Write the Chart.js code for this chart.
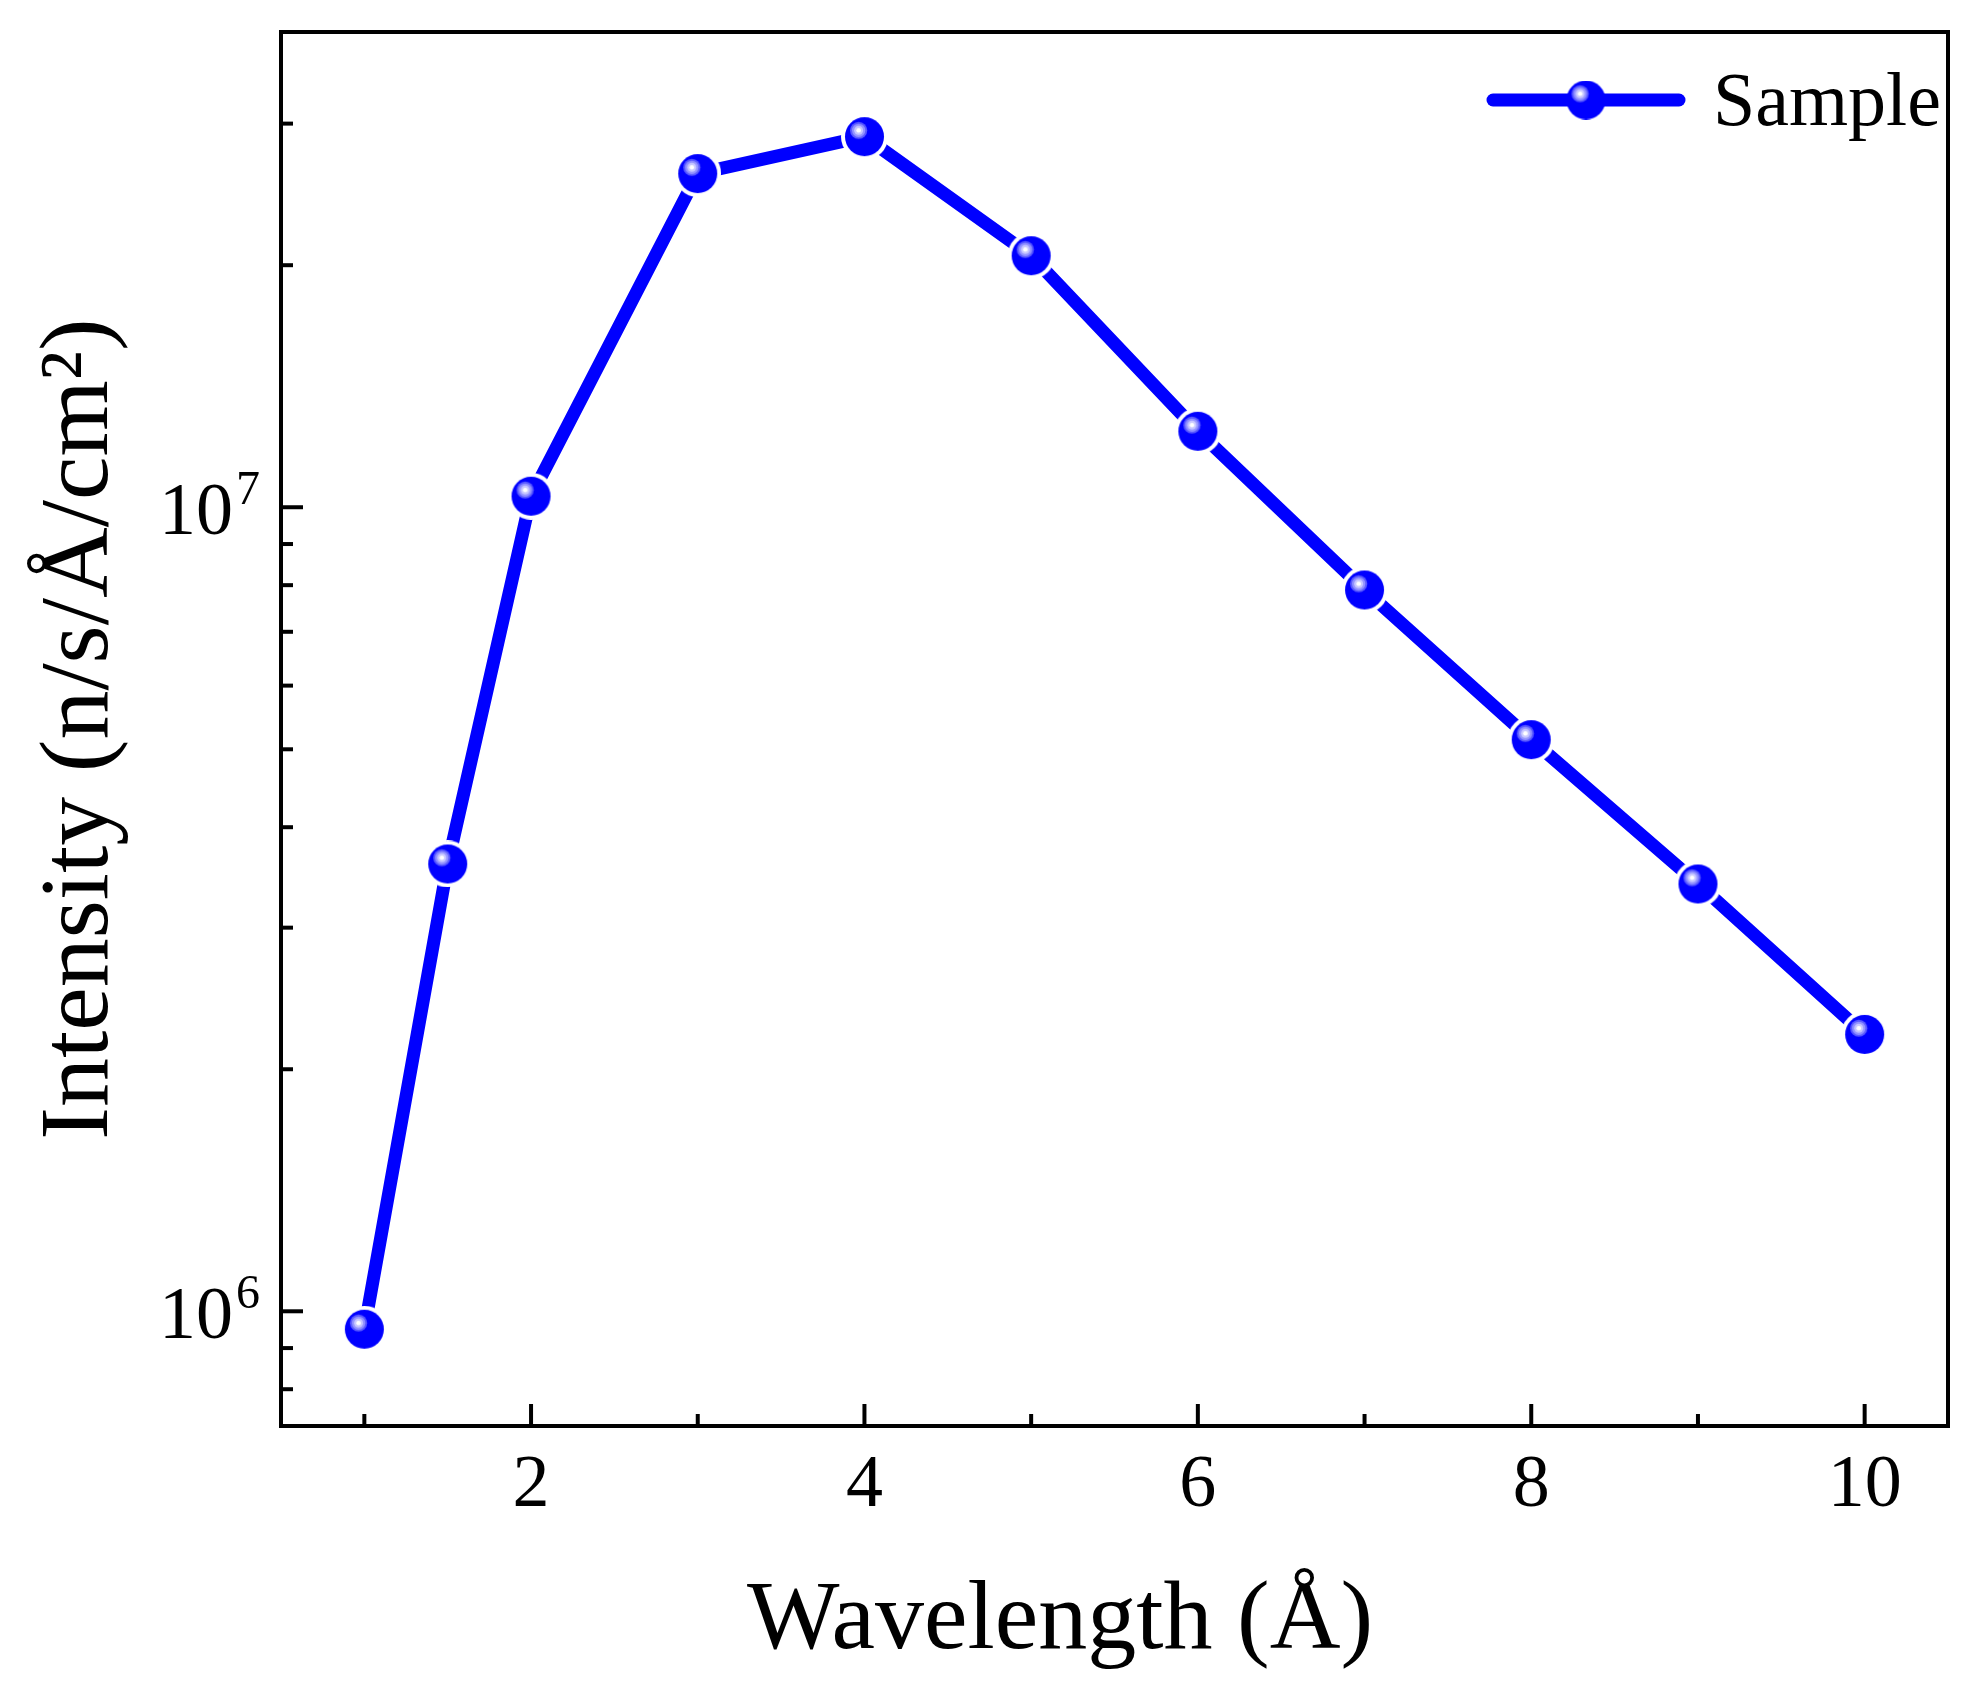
<!DOCTYPE html>
<html>
<head>
<meta charset="utf-8">
<script src="https://cdn.jsdelivr.net/npm/chart.js@4.4.1/dist/chart.umd.min.js"></script>
<style>
  html, body { margin: 0; padding: 0; background: #fff; }
  #wrap { width: 1981px; height: 1684px; }
</style>
</head>
<body>
<div id="wrap"><canvas id="chart"></canvas></div>
<script>
const wavelengths = [1, 1.5, 2, 3, 4, 5, 6, 7, 8, 9, 10];
const intensities = [9.5e5, 3.6e6, 1.032e7, 2.6e7, 2.89e7, 2.055e7, 1.243e7, 7.89e6, 5.14e6, 3.4e6, 2.21e6];
const seriesLabel = "Sample";

const xMajorTicks = [2, 4, 6, 8, 10];
const xMinorTicks = [1, 3, 5, 7, 9];
const yMajorTicks = [1e6, 1e7];
const yMajorLabels = [["10", "6"], ["10", "7"]];
const yMinorTicks = [8e5, 9e5, 2e6, 3e6, 4e6, 5e6, 6e6, 7e6, 8e6, 9e6, 2e7, 3e7];

const xTitle = "Wavelength (Å)";
const yTitle = "Intensity (n/s/Å/cm²)";

const FONT = "'Liberation Serif', 'Times New Roman', serif";
const BLUE = "#0000ff";

// blue ball marker with a highlight; optional white ring gives the gap to the line
function makeSphere(r, gap) {
  const c = document.createElement("canvas");
  const s = Math.ceil((r + gap) * 2);
  c.width = s;
  c.height = s;
  const g = c.getContext("2d");
  const m = s / 2;
  if (gap > 0) {
    g.fillStyle = "#fff";
    g.beginPath();
    g.arc(m, m, r + gap, 0, Math.PI * 2);
    g.fill();
  }
  g.fillStyle = BLUE;
  g.beginPath();
  g.arc(m, m, r, 0, Math.PI * 2);
  g.fill();
  const hx = m - r * 0.3, hy = m - r * 0.32;
  [[r * 0.44, "#5a5aff"], [r * 0.34, "#9494ff"], [r * 0.23, "#c8c8ff"], [r * 0.12, "#ffffff"]].forEach(([rr, col]) => {
    g.fillStyle = col;
    g.beginPath();
    g.arc(hx, hy, rr, 0, Math.PI * 2);
    g.fill();
  });
  return c;
}

const pointImg = makeSphere(19.5, 4);
const legendImg = makeSphere(19.5, 0);

const framePlugin = {
  id: "frame",
  afterDraw(chart) {
    const { ctx, chartArea: a, scales } = chart;
    const xs = scales.x, ys = scales.y;
    ctx.save();
    ctx.strokeStyle = "#000";
    ctx.fillStyle = "#000";
    ctx.lineWidth = 4;
    ctx.strokeRect(a.left, a.top, a.right - a.left, a.bottom - a.top);

    // inward ticks
    const tick = (x1, y1, x2, y2) => {
      ctx.beginPath();
      ctx.moveTo(x1, y1);
      ctx.lineTo(x2, y2);
      ctx.stroke();
    };
    xMajorTicks.forEach((v) => { const x = xs.getPixelForValue(v); tick(x, a.bottom, x, a.bottom - 22); });
    xMinorTicks.forEach((v) => { const x = xs.getPixelForValue(v); tick(x, a.bottom, x, a.bottom - 12); });
    yMajorTicks.forEach((v) => { const y = ys.getPixelForValue(v); tick(a.left, y, a.left + 22, y); });
    yMinorTicks.forEach((v) => { const y = ys.getPixelForValue(v); tick(a.left, y, a.left + 12, y); });

    // tick labels
    ctx.font = "74px " + FONT;
    ctx.textAlign = "center";
    ctx.textBaseline = "alphabetic";
    xMajorTicks.forEach((v) => ctx.fillText(String(v), xs.getPixelForValue(v), a.bottom + 80));

    yMajorTicks.forEach((v, i) => {
      const y = ys.getPixelForValue(v);
      const [base, exp] = yMajorLabels[i];
      ctx.font = "74px " + FONT;
      ctx.textAlign = "right";
      ctx.fillText(base, a.left - 48, y + 27);
      ctx.font = "48px " + FONT;
      ctx.textAlign = "left";
      ctx.fillText(exp, a.left - 45, y - 3);
    });

    // x axis title (sits a little left of the plot centre, as in the original)
    ctx.font = "98px " + FONT;
    ctx.textAlign = "center";
    ctx.fillText(xTitle, 1060, 1648);

    // legend
    const ly = a.top + 68;
    ctx.strokeStyle = BLUE;
    ctx.lineWidth = 13;
    ctx.lineCap = "round";
    tick(a.right - 455, ly, a.right - 269, ly);
    ctx.drawImage(legendImg, a.right - 362 - legendImg.width / 2, ly - legendImg.height / 2);
    ctx.fillStyle = "#000";
    ctx.font = "76px " + FONT;
    ctx.textAlign = "left";
    ctx.fillText(chart.data.datasets[0].label, a.right - 235, ly + 25);
    ctx.restore();
  },
};

new Chart(document.getElementById("chart"), {
  type: "line",
  data: {
    datasets: [
      {
        label: seriesLabel,
        data: wavelengths.map((x, i) => ({ x, y: intensities[i] })),
        borderColor: BLUE,
        backgroundColor: BLUE,
        borderWidth: 13,
        borderCapStyle: "round",
        borderJoinStyle: "round",
        pointStyle: pointImg,
        pointRadius: 19,
        tension: 0,
      },
    ],
  },
  options: {
    responsive: true,
    maintainAspectRatio: false,
    animation: false,
    layout: { padding: { left: 0, top: 29, right: 33, bottom: 0 } },
    plugins: { legend: { display: false }, tooltip: { enabled: false } },
    scales: {
      x: {
        type: "linear",
        min: 0.5,
        max: 10.5,
        grid: { display: false },
        border: { display: false },
        ticks: { display: false },
        afterFit: (s) => { s.height = 258; },
      },
      y: {
        type: "logarithmic",
        min: 7.2e5,
        max: 3.9e7,
        grid: { display: false },
        border: { display: false },
        ticks: { display: false },
        afterFit: (s) => { s.width = 281; },
        title: {
          display: true,
          text: yTitle,
          color: "#000",
          font: { family: FONT, size: 98, lineHeight: 1.2 },
          padding: { top: 22, bottom: 0 },
        },
      },
    },
  },
  plugins: [framePlugin],
});
</script>
</body>
</html>
